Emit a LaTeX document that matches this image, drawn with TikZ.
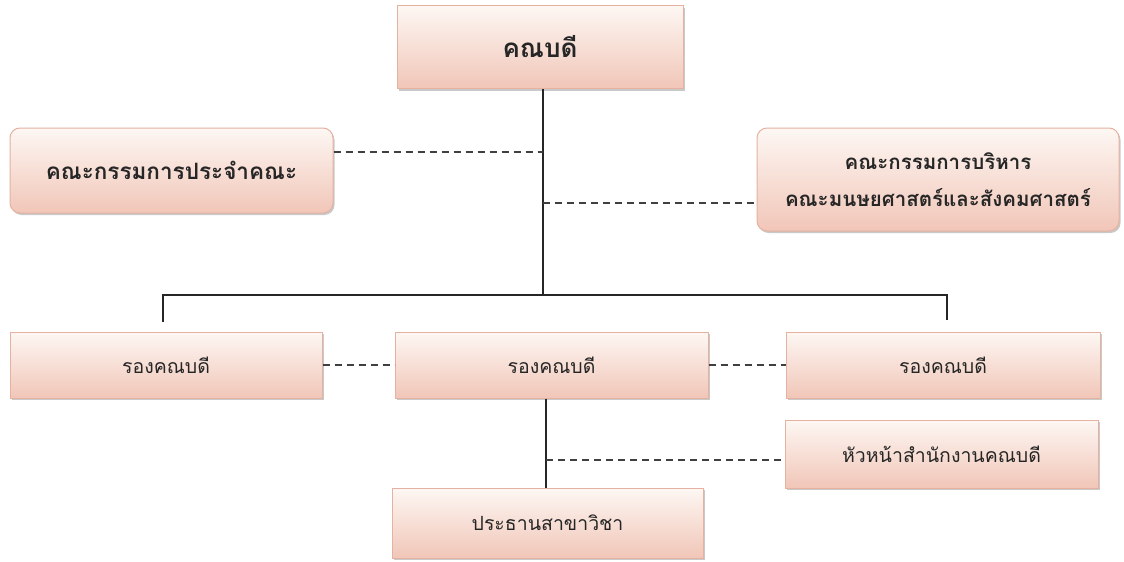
\documentclass[tikz,border=0pt]{standalone}
\usepackage{fontspec}
\setmainfont[Script=Thai]{Loma}
\usetikzlibrary{shadows}
\definecolor{boxtop}{HTML}{FDF7F3}
\definecolor{boxbot}{HTML}{F1C6B8}
\definecolor{boxedge}{HTML}{E5B2A2}
\tikzset{
  box/.style={draw=boxedge, line width=1pt, top color=boxtop, bottom color=boxbot,
    drop shadow={shadow xshift=1.5pt, shadow yshift=-2pt, fill=black!35, opacity=0.6},
    align=center, inner sep=0pt, text=black!85},
  rbox/.style={box, rounded corners=10pt},
  lowbox/.style={box, font=\fontsize{19.5}{23}\selectfont},
  solidline/.style={line width=1.6pt, black!85},
  dashline/.style={line width=1.6pt, black!75, dash pattern=on 7pt off 5pt},
}
\begin{document}
\begin{tikzpicture}[x=1pt,y=-1pt]
\useasboundingbox[fill=white] (0,0) rectangle (1124,562);
% boxes
\node[box, minimum width=286pt, minimum height=83pt, font=\bfseries\fontsize{26}{30}\selectfont] (dean) at (540,47) {คณบดี};
\node[rbox, minimum width=323pt, minimum height=85pt, font=\bfseries\fontsize{22.5}{26}\selectfont] (c1) at (171.5,170.5) {คณะกรรมการประจำคณะ};
\node[rbox, minimum width=362pt, minimum height=103pt, font=\bfseries\fontsize{20.5}{37}\selectfont] (c2) at (938,179.5) {คณะกรรมการบริหาร\\คณะมนษยศาสตร์และสังคมศาสตร์};
\node[lowbox, minimum width=312pt, minimum height=66pt] (v1) at (166,365) {รองคณบดี};
\node[lowbox, minimum width=313pt, minimum height=66pt] (v2) at (551.5,365) {รองคณบดี};
\node[lowbox, minimum width=314pt, minimum height=66pt] (v3) at (943,365) {รองคณบดี};
\node[lowbox, minimum width=313pt, minimum height=68pt] (head) at (941.5,454) {หัวหน้าสำนักงานคณบดี};
\node[lowbox, minimum width=311pt, minimum height=70pt] (chair) at (547.5,523) {ประธานสาขาวิชา};
% coordinates
\coordinate (bar) at (543,295);
\coordinate (barL) at (163,295);
\coordinate (barR) at (947,295);
\coordinate (endL) at (163,322);
\coordinate (endR) at (947,320);
\coordinate (j1) at (543,152);
\coordinate (j2) at (543,203);
\coordinate (k1) at (546,460);
% solid lines
\draw[solidline] (dean.south -| bar) -- (bar);
\draw[solidline] (endL) -- (barL) -- (barR) -- (endR);
\draw[solidline] (v2.south -| k1) -- (chair.north -| k1);
% dashed lines
\draw[dashline] (c1.east |- j1) -- (j1);
\draw[dashline] (j2) -- (c2.west |- j2);
\draw[dashline] (v1.east) -- (v2.west);
\draw[dashline] (v2.east) -- (v3.west);
\draw[dashline] (k1) -- (head.west |- k1);
\end{tikzpicture}
\end{document}
